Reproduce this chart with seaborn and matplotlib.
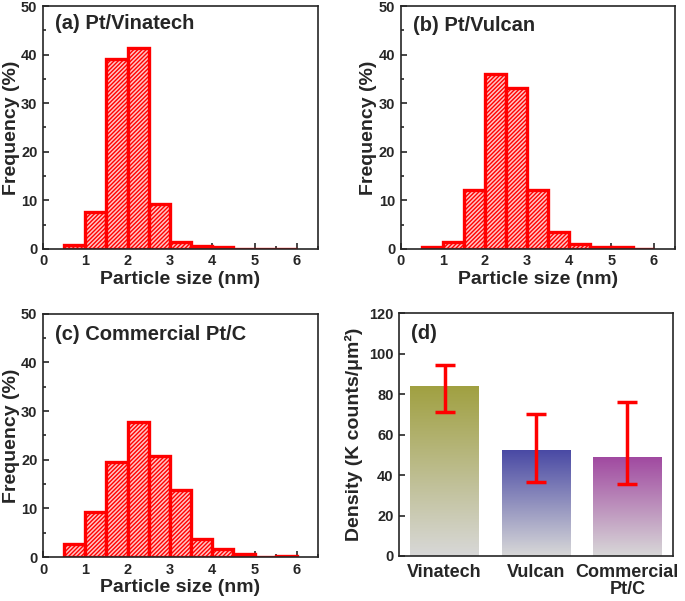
import numpy as np
import pandas as pd
import seaborn as sns
import matplotlib
matplotlib.use('Agg')
import matplotlib.pyplot as plt
from matplotlib.ticker import MultipleLocator
from matplotlib.colors import LinearSegmentedColormap

# histogram bins (nm) and frequencies (%)
bin_edges = [0.5, 1.0, 1.5, 2.0, 2.5, 3.0, 3.5, 4.0, 4.5, 5.0, 5.5, 6.0]
freq_vinatech = [0.8, 7.5, 39.0, 41.3, 9.2, 1.5, 0.5, 0.3, 0, 0, 0]
freq_vulcan = [0.3, 1.5, 12.2, 36.0, 33.2, 12.2, 3.5, 0.9, 0.3, 0.3, 0]
freq_commercial = [2.7, 9.3, 19.5, 27.8, 20.7, 13.8, 3.8, 1.7, 0.6, 0, 0.3]
panel_titles = ['(a) Pt/Vinatech', '(b) Pt/Vulcan', '(c) Commercial Pt/C']

# particle density
catalysts = ['Vinatech', 'Vulcan', 'Commercial\nPt/C']
density = [84.0, 52.5, 49.0]
err_low = [71.3, 36.6, 35.8]
err_high = [94.2, 70.4, 76.2]
bar_colors = ['#a0a040', '#4848a4', '#a048a0']

sns.set_style('ticks')
plt.rcParams['font.family'] = ['Liberation Sans', 'DejaVu Sans']
plt.rcParams['font.weight'] = 'bold'
plt.rcParams['hatch.linewidth'] = 1.0

fig = plt.figure(figsize=(6.85, 6.01), dpi=100)
ax_a = fig.add_axes([0.0628, 0.586, 0.4014, 0.404])
ax_b = fig.add_axes([0.585, 0.586, 0.400, 0.404])
ax_c = fig.add_axes([0.0628, 0.0732, 0.4014, 0.4048])
ax_d = fig.add_axes([0.5825, 0.0749, 0.400, 0.4041])

centers = [(bin_edges[i] + bin_edges[i + 1]) / 2 for i in range(len(bin_edges) - 1)]
label_y = [0.926, 0.92, 0.913]
for ax, freq, title, ly in zip([ax_a, ax_b, ax_c],
                               [freq_vinatech, freq_vulcan, freq_commercial],
                               panel_titles, label_y):
    df = pd.DataFrame({'size': centers, 'freq': freq})
    sns.histplot(data=df, x='size', weights='freq', bins=bin_edges, ax=ax,
                 stat='count', facecolor='#ffc4c4', edgecolor='#ff0000',
                 hatch='////////', linewidth=2.4, alpha=1)
    ax.set_xlim(0, 6.5)
    ax.set_ylim(0, 50)
    ax.xaxis.set_major_locator(MultipleLocator(1))
    ax.xaxis.set_minor_locator(MultipleLocator(0.5))
    ax.yaxis.set_major_locator(MultipleLocator(10))
    ax.yaxis.set_minor_locator(MultipleLocator(5))
    ax.tick_params(which='both', direction='in', labelsize=10.5, width=1.2)
    ax.tick_params(which='major', length=4, pad=4)
    ax.tick_params(which='minor', length=2)
    ax.set_xlabel('Particle size (nm)', fontsize=14, fontweight='bold', labelpad=2)
    ax.set_ylabel('Frequency (%)', fontsize=14, fontweight='bold', labelpad=1)
    ax.text(0.044, ly, title, transform=ax.transAxes, fontsize=14.5,
            fontweight='bold', va='center', ha='left')
    for s in ax.spines.values():
        s.set_linewidth(1.2)

# density bars with vertical gradient
dd = pd.DataFrame({'cat': catalysts, 'density': density})
sns.barplot(data=dd, x='cat', y='density', ax=ax_d, width=0.75,
            color='#cccccc', linewidth=0)
for patch, col in zip(ax_d.patches, bar_colors):
    x0, y0 = patch.get_x(), patch.get_y()
    w, h = patch.get_width(), patch.get_height()
    cmap = LinearSegmentedColormap.from_list('g', ['#d8d8d8', col])
    grad = np.linspace(0, 1, 256).reshape(-1, 1)
    im = ax_d.imshow(grad, cmap=cmap, aspect='auto', origin='lower',
                     extent=[x0, x0 + w, y0, y0 + h], zorder=2)
    im.set_clip_path(patch)
    patch.set_facecolor('none')
ax_d.set_xlim(-0.5, 2.5)
ax_d.set_ylim(0, 120)
yerr = [[d - lo for d, lo in zip(density, err_low)],
        [hi - d for d, hi in zip(density, err_high)]]
ax_d.errorbar(range(len(catalysts)), density, yerr=yerr, fmt='none',
              ecolor='#ff0000', elinewidth=2.5, capsize=7, capthick=2.5, zorder=3)
ax_d.yaxis.set_major_locator(MultipleLocator(20))
ax_d.tick_params(axis='y', direction='in', labelsize=10.5, length=4, width=1.2, pad=4)
ax_d.tick_params(axis='x', length=0, labelsize=13, pad=6)
for t in ax_d.get_xticklabels():
    t.set_linespacing(1.0)
ax_d.set_xlabel('')
ax_d.set_ylabel('Density (K counts/μm²)', fontsize=14, fontweight='bold', labelpad=4)
ax_d.text(0.044, 0.918, '(d)', transform=ax_d.transAxes, fontsize=14.5,
          fontweight='bold', va='center', ha='left')
for s in ax_d.spines.values():
    s.set_linewidth(1.2)

fig.savefig('out.png', dpi=100)
